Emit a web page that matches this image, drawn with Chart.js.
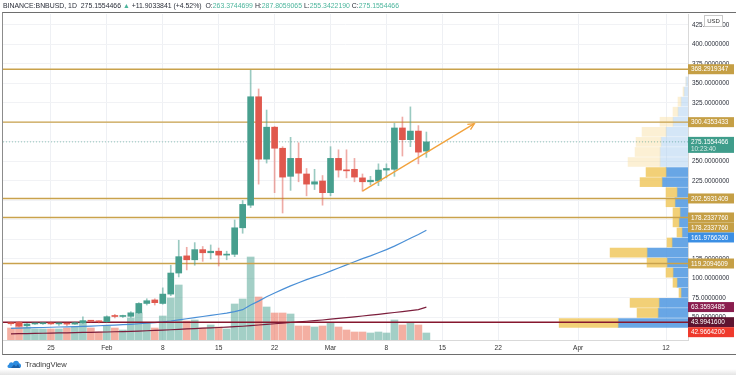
<!DOCTYPE html>
<html><head><meta charset="utf-8">
<script src="https://cdn.jsdelivr.net/npm/chart.js@4.4.1/dist/chart.umd.min.js"></script>
<style>
html,body{margin:0;padding:0;background:#fff;width:736px;height:375px;overflow:hidden;font-family:'Liberation Sans',Arial,sans-serif;}
#wrap{position:relative;width:736px;height:375px;}
#c{position:absolute;left:0;top:0;}
#hdr{position:absolute;left:3px;top:1px;font-size:6.9px;color:#2a2e39;white-space:nowrap;line-height:9px;}
#hdr .g{color:#4cb59c;}
#frame{position:absolute;left:2px;top:12px;width:734px;height:343px;border-top:1px solid #6e6e6e;border-left:1px solid #8c8c8c;border-bottom:1px solid #6e6e6e;box-sizing:border-box;pointer-events:none;}
#logo{position:absolute;left:7px;top:358px;height:12px;display:flex;align-items:center;font-size:7.6px;color:#3a3a3a;}
#logo svg{margin-right:3px;}
#shade{position:absolute;left:0;top:369px;width:736px;height:6px;background:linear-gradient(#ffffff,#e4e4e4);}
</style></head>
<body><div id="wrap">
<canvas id="c" width="736" height="375"></canvas>
<div id="frame"></div>
<div id="hdr">BINANCE:BNBUSD, 1D &nbsp;275.1554466 <span class="g">▲</span> +11.9033841 (+4.52%) &nbsp;O:<span class="g">263.3744699</span> H:<span class="g">287.8059065</span> L:<span class="g">255.3422190</span> C:<span class="g">275.1554466</span></div>
<div id="logo"><svg width="15" height="10" viewBox="0 0 15 10"><path d="M2 9 C0 9 0 6 2 5.6 C2 3 5 2.5 6 4 C7 1 11.5 1 12 4.2 C14.5 4.4 14.8 9 12.5 9 Z" fill="#2d8ce0"/><path d="M4 9 L7 5.5 L9 7.5 L11 5 L13 9 Z" fill="#1b5fa8"/></svg>TradingView</div>
<div id="shade"></div>
</div>
<script>
// ---------- data ----------
const dates = ['01-20','01-21','01-22','01-23','01-24','01-25','01-26','01-27','01-28','01-29','01-30','01-31',
 '02-01','02-02','02-03','02-04','02-05','02-06','02-07','02-08','02-09','02-10','02-11','02-12','02-13','02-14',
 '02-15','02-16','02-17','02-18','02-19','02-20','02-21','02-22','02-23','02-24','02-25','02-26','02-27','02-28',
 '03-01','03-02','03-03','03-04','03-05','03-06','03-07','03-08','03-09','03-10','03-11','03-12','03-13'];
const opens = [42.5,44,39.5,41.7,42,42.5,41.8,42.5,41.5,43.3,45.5,45.2,
 44.5,51.8,51.3,51.5,56,68,72.5,68,80,107,129,124,137,133,
 135,130,131,165,194,333,253,294,267,231,254,234,221,225,
 210,254,239,240,229,224,225,239,240,293,278,289,263.3744699];
const highs = [44,44.5,42.5,43,43.5,44,42.8,43,44,51,46.5,45.8,
 52,54,53,57.5,69,74,74,88,117,149,140,146,141,143,
 139,135,175,200,367,343,316,295,269,281,274,241,240,232,
 269,265,265,254,234,231,247,247,299,307,320,296,287.8059065];
const lows = [40,38,37.5,41,41,41,40,39.5,41,42.5,44,43,
 44,49.5,50,50,55,66,66,67,78,102,111,117,122,125,
 116,124,128,158,191,221,248,210,184,213,224,206,214,194,
 206,230,229,224,212,220,219,229,231,257,269,247,255.3422190];
const closes = [42,39,41.7,42,42.3,41.8,41.9,41.5,43.3,46,45.2,44.5,
 51,51.3,51.8,56,68,71.5,69,80,107,128,124,137,133,135,
 130,131,165,195,333,253,294,267,230,254,235,221,224,210,
 254,239,238,230,224,226,239,241,293,278,289,262,275.1554466];
const volumes = [1.2,1.7,1.3,1.1,1.1,1.1,1.1,1.2,1.3,1.8,1.2,0.8,
 1.4,1.2,1.0,2.2,2.7,1.7,1.2,2.4,4.2,5.5,1.9,2.0,1.2,1.5,
 1.3,1.1,3.6,4.1,8.3,4.3,3.3,2.7,2.7,2.6,1.4,1.4,1.3,1.4,
 1.7,1.3,1.0,0.8,0.8,0.7,0.8,0.7,2.0,1.5,1.7,1.5,0.7];
const maFast = [36.0,36.3,36.6,36.9,37.2,37.5,37.8,38.0,38.3,38.7,39.0,39.4,
 39.8,40.3,40.8,41.3,42.0,42.7,43.4,44.3,45.5,47.0,48.4,49.9,51.3,52.8,
 54.2,55.6,57.5,60.0,66.0,71.0,76.5,81.5,86.0,90.5,94.5,98.5,102.0,105.5,
 109.5,113.5,117.5,121.5,125.5,129.0,133.0,137.0,141.5,146.5,151.5,156.5,161.9766260];
const maSlow = [29.0,29.2,29.4,29.6,29.8,30.0,30.2,30.4,30.6,30.8,31.0,31.2,
 31.4,31.7,32.0,32.3,32.6,33.0,33.4,33.8,34.3,34.8,35.3,35.8,36.3,36.8,
 37.2,37.6,38.2,38.8,39.6,40.4,41.2,42.0,42.8,43.6,44.4,45.2,46.0,46.8,
 47.8,48.8,49.8,50.8,51.9,53.0,54.1,55.2,56.4,57.6,58.9,60.2,63.3593485];
const levelPrices = [368.2919347, 300.4353433, 202.5931409, 178.2337760, 119.2094609];
const supportPrice = 43.9941600;
const lastPrice = 275.1554466;
const trendDates = ['03-05','03-19'];
const trendPrices = [212, 298.5];
// volume profile rows (bottom price of each row), up / down volume
const vpRowBottom = [36.5,49.4,62.3,75.2,88.1,101.0,113.9,126.8,139.7,152.6,165.5,178.4,191.3,204.2,217.1,230.0,
 242.9,255.8,268.7,281.6,294.5,307.4,320.3,333.2,346.1];
const vpUp   = [7.0,3.0,2.9,0.7,1.1,1.5,2.1,4.1,1.6,0.6,0.9,0.8,1.3,1.1,2.6,2.2, 2.8,2.8,2.7,2.2,1.5,1.0,0.7,0.4,0.2];
const vpDown = [5.9,2.1,2.9,0.2,0.4,0.7,2.0,3.7,0.5,0.5,0.6,0.7,0.9,1.1,2.2,2.0, 3.2,2.5,2.5,2.4,1.3,0.5,0.3,0.1,0.0];
const vpInValueArea = [1,1,1,1,1,1,1,1,1,1,1,1,1,1,1,1, 0,0,0,0,0,0,0,0,0];
const vpRowSize = 12.9;
const xTickDates = ['01-25','02-01','02-08','02-15','02-22','03-01','03-08','03-15','03-22','04-01','04-12'];
const xTickLabels = ['25','Feb','8','15','22','Mar','8','15','22','Apr','12'];
const yTickValues = [50,75,100,125,150,175,200,225,250,275,300,325,350,375,400,425];
const priceTags = [
 {v:368.2919347, t:'368.2919347', c:'#c59f45'},
 {v:300.4353433, t:'300.4353433', c:'#c59f45'},
 {v:275.1554466, t:'275.1554466', c:'#3f9d8b', sub:'10:23:40'},
 {v:202.5931409, t:'202.5931409', c:'#c59f45'},
 {v:178.2337760, t:'178.2337760', c:'#c59f45'},
 {v:178.2337760, t:'178.2337760', c:'#c59f45'},
 {v:161.9766260, t:'161.9766260', c:'#3b8fe4'},
 {v:119.2094609, t:'119.2094609', c:'#c59f45'},
 {v:63.3593485, t:'63.3593485', c:'#8a1d4e'},
 {v:43.9941600, t:'43.9941600', c:'#5e1430'},
 {v:42.9664200, t:'42.9664200', c:'#ef3a2c'}
];

// ---------- helpers ----------
function doy(s){const p=s.split('-').map(Number);return Math.round((Date.UTC(2021,p[0]-1,p[1])-Date.UTC(2021,0,0))/86400000);}
const XMIN = 19, XMAX = 104.75, YMIN = 21.15, YMAX = 439.1;
const UP='#479f8e', DN='#e0584d';
const upFlags = opens.map((o,i)=>closes[i]>=o);
const xs = dates.map(doy);

const levelSets = levelPrices.map(p=>({type:'line',data:[{x:XMIN,y:p},{x:XMAX,y:p}],borderColor:'#c9a24c',borderWidth:1.4,pointRadius:0,order:4,xAxisID:'x',yAxisID:'y'}));

const datasets = [
 {type:'bar',xAxisID:'x',yAxisID:'yv',data:xs.map((x,i)=>({x:x,y:volumes[i]})),
  backgroundColor:upFlags.map(u=>u?'rgba(71,159,142,0.5)':'rgba(235,110,85,0.55)'),barThickness:7,grouped:false,order:20},
 {type:'bar',indexAxis:'y',xAxisID:'xvp',yAxisID:'y',data:vpRowBottom.map((b,i)=>({y:b+vpRowSize/2,x:[0,vpUp[i]]})),
  backgroundColor:vpInValueArea.map(f=>f?'rgba(78,150,224,0.85)':'rgba(170,205,240,0.5)'),barThickness:9,grouped:false,order:19},
 {type:'bar',indexAxis:'y',xAxisID:'xvp',yAxisID:'y',data:vpRowBottom.map((b,i)=>({y:b+vpRowSize/2,x:[vpUp[i],vpUp[i]+vpDown[i]]})),
  backgroundColor:vpInValueArea.map(f=>f?'rgba(240,200,95,0.85)':'rgba(250,225,170,0.5)'),barThickness:9,grouped:false,order:18},
 ...levelSets,
 {type:'line',data:[{x:XMIN,y:supportPrice},{x:XMAX,y:supportPrice}],borderColor:'#86172e',borderWidth:1.6,pointRadius:0,order:4,xAxisID:'x',yAxisID:'y'},
 {type:'line',data:[{x:XMIN,y:lastPrice},{x:XMAX,y:lastPrice}],borderColor:'rgba(63,157,139,0.55)',borderWidth:1,borderDash:[1,2],pointRadius:0,order:7,xAxisID:'x',yAxisID:'y'},
 {type:'line',data:xs.map((x,i)=>({x:x,y:maFast[i]})),borderColor:'#4a8fd6',borderWidth:1.2,pointRadius:0,order:6,xAxisID:'x',yAxisID:'y'},
 {type:'line',data:xs.map((x,i)=>({x:x,y:maSlow[i]})),borderColor:'#7c1e3c',borderWidth:1.2,pointRadius:0,order:6,xAxisID:'x',yAxisID:'y'},
 {type:'bar',xAxisID:'x',yAxisID:'y',data:xs.map((x,i)=>({x:x,y:[lows[i],highs[i]]})),
  backgroundColor:upFlags.map(u=>u?'rgba(71,159,142,0.55)':'rgba(224,88,77,0.5)'),barThickness:1,grouped:false,order:3},
 {type:'bar',xAxisID:'x',yAxisID:'y',data:xs.map((x,i)=>({x:x,y:[opens[i],closes[i]]})),
  backgroundColor:upFlags.map(u=>u?UP:DN),barThickness:6,minBarLength:1,grouped:false,order:2},
 {type:'line',data:trendDates.map((d,i)=>({x:doy(d),y:trendPrices[i]})),borderColor:'#f2a23c',borderWidth:1.3,pointRadius:0,order:1,xAxisID:'x',yAxisID:'y'}
];
const trendIndex = datasets.length-1;

const overlay = {
 id:'overlay',
 afterDatasetsDraw(chart){
  const meta = chart.getDatasetMeta(trendIndex);
  const a = meta.data[0], b = meta.data[1];
  const ctx = chart.ctx; const ang = Math.atan2(b.y-a.y,b.x-a.x); const L=7;
  ctx.save(); ctx.strokeStyle='#f2a23c'; ctx.lineWidth=1.3; ctx.beginPath();
  ctx.moveTo(b.x-L*Math.cos(ang-0.45),b.y-L*Math.sin(ang-0.45)); ctx.lineTo(b.x,b.y);
  ctx.lineTo(b.x-L*Math.cos(ang+0.45),b.y-L*Math.sin(ang+0.45)); ctx.stroke(); ctx.restore();
 },
 afterDraw(chart){
  const ctx = chart.ctx, ys = chart.scales.y, x0 = chart.chartArea.right;
  ctx.save();
  ctx.fillStyle='#fff'; ctx.strokeStyle='#c8c8c8'; ctx.lineWidth=1;
  ctx.fillRect(704.5,15.5,18,11); ctx.strokeRect(704.5,15.5,18,11);
  ctx.fillStyle='#333'; ctx.font='6px "Liberation Sans"'; ctx.textBaseline='middle'; ctx.textAlign='center';
  ctx.fillText('USD',713.5,21.5);
  ctx.textAlign='left'; ctx.font='6.4px "Liberation Sans"';
  let lastBottom = -1e9;
  priceTags.forEach(t=>{
   let y = ys.getPixelForValue(t.v);
   const up = 5, down = t.sub?11:5;
   let top = y-up; if(top<lastBottom){ y += lastBottom-top; top = lastBottom; }
   lastBottom = y+down;
   ctx.fillStyle=t.c; ctx.fillRect(x0, top, 46, up+down);
   ctx.fillStyle='#fff'; ctx.fillText(t.t, x0+3, y+0.5);
   if(t.sub){ ctx.fillStyle='rgba(255,255,255,0.8)'; ctx.fillText(t.sub, x0+3, y+7.5); }
  });
  ctx.restore();
 }
};

Chart.defaults.font.family = '"Liberation Sans", Arial, sans-serif';
new Chart(document.getElementById('c'),{
 type:'bar',
 data:{datasets:datasets},
 options:{
  responsive:false, animation:false, devicePixelRatio:1,
  layout:{padding:{left:3,top:14,right:0,bottom:20}},
  plugins:{legend:{display:false},tooltip:{enabled:false}},
  scales:{
   x:{type:'linear',position:'bottom',min:XMIN,max:XMAX,offset:false,
      grid:{color:'#eef0f4',offset:false,drawTicks:false},border:{color:'#d9d9d9'},
      afterBuildTicks:s=>{s.ticks=xTickDates.map(d=>({value:doy(d)}));},
      afterFit:s=>{s.height=15;},
      ticks:{autoSkip:false,maxRotation:0,padding:4,color:'#333',font:{size:6.6},callback:(v,i)=>xTickLabels[i]}},
   y:{type:'linear',position:'right',min:YMIN,max:YMAX,beginAtZero:false,offset:false,
      grid:{color:'#f1f2f5',drawTicks:false,offset:false},border:{color:'#d9d9d9'},
      afterBuildTicks:s=>{s.ticks=yTickValues.map(v=>({value:v}));},
      afterFit:s=>{s.width=48;},
      ticks:{padding:4,color:'#2a2e39',font:{size:6.4},callback:v=>Number(v).toFixed(7)}},
   yv:{type:'linear',display:false,min:0,max:32.6,beginAtZero:true,offset:false},
   xvp:{type:'linear',display:false,reverse:true,min:0,max:68.6,beginAtZero:true,offset:false}
  }
 },
 plugins:[overlay]
});
</script>
</body></html>
